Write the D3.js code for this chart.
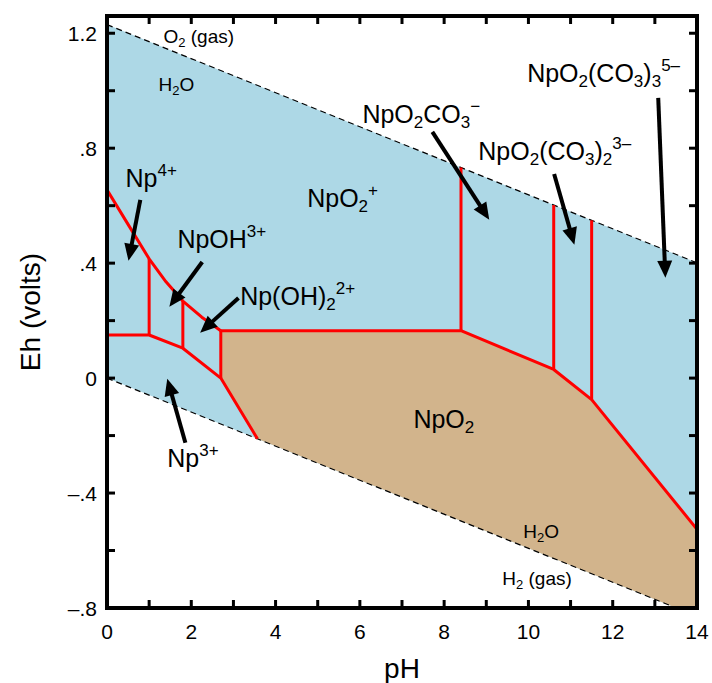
<!DOCTYPE html>
<html>
<head>
<meta charset="utf-8">
<script src="https://cdn.jsdelivr.net/npm/d3@7"></script>
<style>
html,body{margin:0;padding:0;background:#fff;}
svg{display:block;font-family:"Liberation Sans",Arial,Helvetica,sans-serif;}
</style>
</head>
<body>
<svg id="chart" width="712" height="683"></svg>
<script>
// ---- data (pH, Eh in volts) ----
const pHDomain = [0, 14];
const EhDomain = [-0.8, 1.26];
const xTicks = [0, 2, 4, 6, 8, 10, 12, 14];
const xMinorTicks = d3.range(0, 15, 1);
const yTicks = [1.2, 0.8, 0.4, 0, -0.4, -0.8];
const yTickLabels = ["1.2", ".8", ".4", "0", "\u2013.4", "\u2013.8"];
const yMinorTicks = d3.range(-0.8, 1.21, 0.2);

// water stability lines
const o2Line = [[0, 1.23], [14, 0.401]];
const h2Line = [[0, 0.0], [13.51, -0.8]];

// Np4+ / NpOH3+ / Np(OH)2 2+ upper boundary
const upperIonBoundary = [[0, 0.655], [0.5, 0.535], [1.0, 0.415], [1.4, 0.335], [1.8, 0.268], [2.25, 0.212], [2.7, 0.165]];
// Np3+ boundary
const np3Boundary = [[0, 0.15], [1.0, 0.15], [1.8, 0.104], [2.7, 0.0], [3.57, -0.211]];
// NpO2 solid upper boundary
const npo2Upper = [[2.7, 0.165], [8.4, 0.165], [10.6, 0.03], [11.5, -0.075], [14, -0.526]];
// vertical boundaries [pH, EhLow, EhHigh]
const verticals = [[1.0, 0.15, 0.415], [1.8, 0.104, 0.268], [2.7, 0.0, 0.165], [8.4, 0.165, 0.733], [10.6, 0.03, 0.602], [11.5, -0.075, 0.549]];

// NpO2 field polygon
const npo2Field = [[2.7, 0.165], [8.4, 0.165], [10.6, 0.03], [11.5, -0.075], [14, -0.526], [14, -0.8], [13.51, -0.8], [3.57, -0.211], [2.7, 0.0]];
// aqueous (water stability) field
const waterField = [[0, 1.23], [14, 0.401], [14, -0.8], [13.51, -0.8], [0, 0]];

// species labels: [pH, Eh, segments]
const speciesLabels = [
  [0.44, 0.665, [["Np","n"],["4+","sup"]]],
  [1.67, 0.453, [["NpOH","n"],["3+","sup"]]],
  [3.16, 0.255, [["Np(OH)","n"],["2","sub"],["2+","sup"]]],
  [1.43, -0.308, [["Np","n"],["3+","sup"]]],
  [4.75, 0.596, [["NpO","n"],["2","sub"],["+","sup"]]],
  [7.27, -0.173, [["NpO","n"],["2","sub"]]],
  [6.06, 0.888, [["NpO","n"],["2","sub"],["CO","n"],["3","sub"],["\u2212","sup"]]],
  [8.81, 0.759, [["NpO","n"],["2","sub"],["(CO","n"],["3","sub"],[")","n"],["2","sub"],["3\u2013","sup"]]],
  [9.97, 1.031, [["NpO","n"],["2","sub"],["(CO","n"],["3","sub"],[")","n"],["3","sub"],["5\u2013","sup"]]]
];
const smallLabels = [
  [1.34, 1.166, [["O","n"],["2","sub"],[" (gas)","n"]]],
  [1.22, 0.999, [["H","n"],["2","sub"],["O","n"]]],
  [9.88, -0.556, [["H","n"],["2","sub"],["O","n"]]],
  [9.38, -0.719, [["H","n"],["2","sub"],[" (gas)","n"]]]
];
// arrows: [fromPH, fromEh, tipPH, tipEh]
const arrows = [
  [0.79, 0.620, 0.51, 0.408],
  [2.26, 0.404, 1.48, 0.248],
  [3.12, 0.279, 2.21, 0.158],
  [1.86, -0.225, 1.43, -0.002],
  [7.72, 0.857, 9.07, 0.551],
  [10.61, 0.710, 11.09, 0.464],
  [13.08, 0.975, 13.25, 0.349]
];

// ---- layout ----
const margin = {left: 107, right: 15, top: 16, bottom: 75};
const W = 712, H = 683;
const svg = d3.select("#chart");
const x = d3.scaleLinear().domain(pHDomain).range([margin.left, W - margin.right]);
const y = d3.scaleLinear().domain(EhDomain).range([H - margin.bottom, margin.top]);
const line = d3.line().x(d => x(d[0])).y(d => y(d[1]));

svg.append("defs").append("clipPath").attr("id", "clip")
  .append("rect").attr("x", x(0)).attr("y", y(EhDomain[1])).attr("width", x(14) - x(0)).attr("height", y(-0.8) - y(EhDomain[1]));

const g = svg.append("g").attr("clip-path", "url(#clip)");
g.append("path").attr("d", line(waterField) + "Z").attr("fill", "#add8e6");
g.append("path").attr("d", line(npo2Field) + "Z").attr("fill", "#d2b48c");

// dashed water lines
[o2Line, h2Line].forEach(l => {
  g.append("path").attr("d", line(l)).attr("fill", "none").attr("stroke", "#000")
    .attr("stroke-width", 1.2).attr("stroke-dasharray", "6,4");
});

// red boundaries
const red = "#ff0000";
[upperIonBoundary, np3Boundary, npo2Upper].forEach(l => {
  g.append("path").attr("d", line(l)).attr("fill", "none").attr("stroke", red)
    .attr("stroke-width", 3).attr("stroke-linejoin", "round");
});
verticals.forEach(v => {
  g.append("line").attr("x1", x(v[0])).attr("x2", x(v[0])).attr("y1", y(v[1])).attr("y2", y(v[2]))
    .attr("stroke", red).attr("stroke-width", 3);
});

// text helper
function richText(sel, px, py, segs, size) {
  const t = sel.append("text").attr("x", px).attr("y", py).attr("font-size", size).attr("fill", "#000");
  let off = 0;
  const small = Math.round(size * 0.66);
  segs.forEach(([s, mode]) => {
    let target = 0, fs = size;
    if (mode === "sub") { target = size * 0.22; fs = small; }
    if (mode === "sup") { target = -size * 0.42; fs = small; }
    t.append("tspan").attr("dy", target - off).attr("font-size", fs).text(s);
    off = target;
  });
  return t;
}

speciesLabels.forEach(l => richText(svg, x(l[0]), y(l[1]), l[2], 25));
smallLabels.forEach(l => richText(svg, x(l[0]), y(l[1]), l[2], 19));

// arrows
arrows.forEach(a => {
  const x0 = x(a[0]), y0 = y(a[1]), x1 = x(a[2]), y1 = y(a[3]);
  const dx = x1 - x0, dy = y1 - y0, len = Math.hypot(dx, dy);
  const ux = dx / len, uy = dy / len;
  const hl = 17, hw = 7.5;
  const bx = x1 - ux * hl, by = y1 - uy * hl;
  svg.append("line").attr("x1", x0).attr("y1", y0).attr("x2", bx + ux * 2).attr("y2", by + uy * 2)
    .attr("stroke", "#000").attr("stroke-width", 4);
  svg.append("path").attr("d", `M${x1},${y1}L${bx - uy * hw},${by + ux * hw}L${bx + uy * hw},${by - ux * hw}Z`)
    .attr("fill", "#000");
});

// frame
svg.append("rect").attr("x", x(0)).attr("y", y(EhDomain[1])).attr("width", x(14) - x(0)).attr("height", y(-0.8) - y(EhDomain[1]))
  .attr("fill", "none").attr("stroke", "#000").attr("stroke-width", 4);

// ticks (inward)
const tl = 8;
xMinorTicks.filter(v => v > 0 && v < 14).forEach(v => {
  svg.append("line").attr("x1", x(v)).attr("x2", x(v)).attr("y1", y(-0.8)).attr("y2", y(-0.8) - tl).attr("stroke", "#000").attr("stroke-width", 3);
  svg.append("line").attr("x1", x(v)).attr("x2", x(v)).attr("y1", y(EhDomain[1])).attr("y2", y(EhDomain[1]) + tl).attr("stroke", "#000").attr("stroke-width", 3);
});
yMinorTicks.filter(v => v > -0.79).forEach(v => {
  svg.append("line").attr("x1", x(0)).attr("x2", x(0) + tl).attr("y1", y(v)).attr("y2", y(v)).attr("stroke", "#000").attr("stroke-width", 3);
  svg.append("line").attr("x1", x(14)).attr("x2", x(14) - tl).attr("y1", y(v)).attr("y2", y(v)).attr("stroke", "#000").attr("stroke-width", 3);
});

// tick labels
xTicks.forEach(v => {
  svg.append("text").attr("x", x(v)).attr("y", y(-0.8) + 31).attr("text-anchor", "middle")
    .attr("font-size", 21).text(v);
});
yTicks.forEach((v, i) => {
  svg.append("text").attr("x", x(0) - 10).attr("y", y(v) + 7.5).attr("text-anchor", "end")
    .attr("font-size", 21).text(yTickLabels[i]);
});

// axis titles
svg.append("text").attr("x", (x(0) + x(14)) / 2).attr("y", 678).attr("text-anchor", "middle")
  .attr("font-size", 28).text("pH");
svg.append("text").attr("transform", `translate(40,${(y(-0.8) + y(EhDomain[1])) / 2}) rotate(-90)`)
  .attr("text-anchor", "middle").attr("font-size", 28).text("Eh (volts)");
</script>
</body>
</html>
